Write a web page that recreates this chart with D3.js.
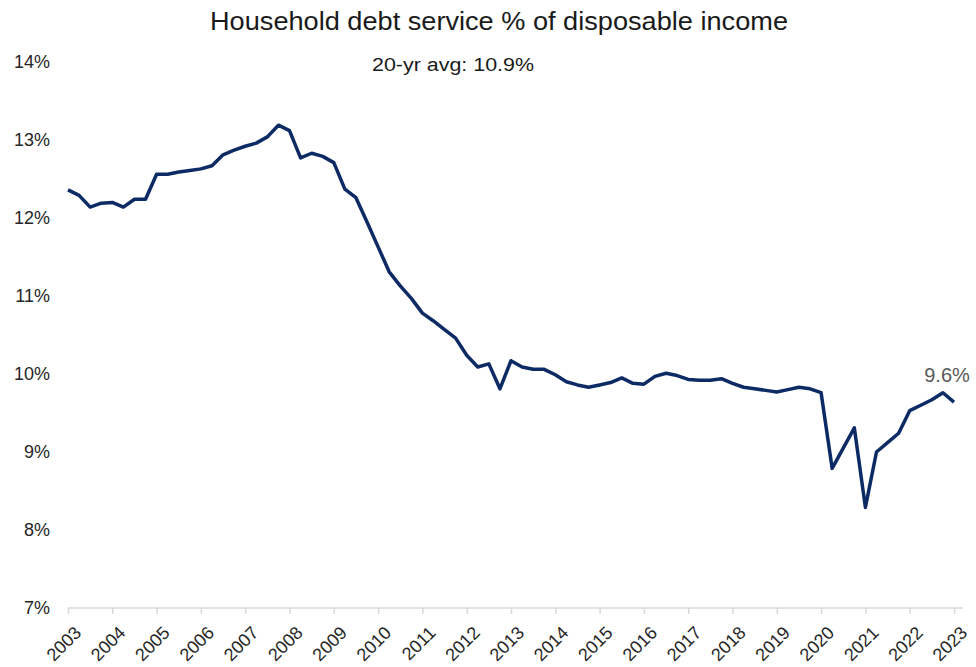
<!DOCTYPE html>
<html>
<head>
<meta charset="utf-8">
<script src="https://cdn.jsdelivr.net/npm/d3@7"></script>
<style>
  body { margin: 0; background: #fff; }
  svg { font-family: "Liberation Sans", Arial, sans-serif; }
</style>
</head>
<body>
<svg id="drawing_region"></svg>
<script>
// quarterly debt service ratio, 2003Q1 .. 2023Q1
const start_year = 2003;
const dsr = [
    12.36, 12.29, 12.14, 12.19,
    12.20, 12.14, 12.24, 12.24,
    12.56, 12.56, 12.59, 12.61,
    12.63, 12.67, 12.81, 12.87,
    12.92, 12.96, 13.04, 13.19,
    13.12, 12.77, 12.83, 12.79,
    12.71, 12.37, 12.26, 11.95,
    11.63, 11.31, 11.13, 10.97,
    10.78, 10.68, 10.57, 10.46,
    10.24, 10.09, 10.13, 9.81,
    10.17, 10.09, 10.06, 10.06,
    9.99, 9.90, 9.86, 9.83,
    9.86, 9.89, 9.95, 9.88,
    9.87, 9.97, 10.01, 9.98,
    9.93, 9.92, 9.92, 9.94,
    9.88, 9.83, 9.81, 9.79,
    9.77, 9.80, 9.83, 9.81,
    9.76, 8.79, 9.05, 9.31,
    8.29, 9.00, 9.12, 9.24,
    9.53, 9.60, 9.67, 9.76,
    9.64
];
const year_ticks = d3.range(2003, 2024);
const pct_ticks = [7, 8, 9, 10, 11, 12, 13, 14];
const title = "Household debt service % of disposable income";
const subtitle = "20-yr avg: 10.9%";
const end_label = "9.6%";

const data = dsr.map((v, i) => ({ t: start_year + i / 4, v: v }));

const config = {
    width: 976,
    height: 667,
    margin: {top: 62, right: 22, bottom: 59, left: 68}
};

const svg = d3.select('#drawing_region')
    .attr('width', config.width)
    .attr('height', config.height);

const chart = svg.append('g')
    .attr('transform', `translate(${config.margin.left}, ${config.margin.top})`);

const inner_width = config.width - config.margin.left - config.margin.right;
const inner_height = config.height - config.margin.top - config.margin.bottom;

const xscale = d3.scaleLinear()
    .domain([2003, 2023])
    .range([0, inner_width]);

const yscale = d3.scaleLinear()
    .domain([7, 14])
    .range([inner_height, 0]);

// y axis: labels only
const yaxis = d3.axisLeft(yscale)
    .tickValues(pct_ticks)
    .tickSize(0)
    .tickPadding(18)
    .tickFormat(d => d + '%');

const yaxis_group = chart.append('g').call(yaxis);
yaxis_group.select('.domain').remove();
yaxis_group.selectAll('text')
    .attr('font-size', 18)
    .attr('fill', '#262626')
    .attr('font-family', '"Liberation Sans", Arial, sans-serif');

// x axis
const xaxis = d3.axisBottom(xscale)
    .tickValues(year_ticks)
    .tickSize(6)
    .tickFormat(d3.format('d'));

const xaxis_group = chart.append('g')
    .attr('transform', `translate(0, ${inner_height})`)
    .call(xaxis);

xaxis_group.select('.domain').remove();
xaxis_group.append('line')
    .attr('x1', 0)
    .attr('x2', inner_width + 9)
    .attr('stroke', '#d9d9d9')
    .attr('stroke-width', 1.5);
xaxis_group.selectAll('.tick line')
    .attr('stroke', '#d9d9d9')
    .attr('stroke-width', 1.5);
xaxis_group.selectAll('.tick text')
    .attr('font-size', 18)
    .attr('fill', '#262626')
    .attr('font-family', '"Liberation Sans", Arial, sans-serif')
    .attr('text-anchor', 'end')
    .attr('dy', '0.35em')
    .attr('transform', 'translate(3, 15) rotate(-45)');

// line
const line = d3.line()
    .x(d => xscale(d.t))
    .y(d => yscale(d.v));

chart.append('path')
    .datum(data)
    .attr('d', line)
    .attr('fill', 'none')
    .attr('stroke', '#0c2a64')
    .attr('stroke-width', 3.5)
    .attr('stroke-linejoin', 'round');

// end label
const last = data[data.length - 1];
chart.append('text')
    .attr('x', xscale(last.t) - 7)
    .attr('y', yscale(last.v) - 20)
    .attr('text-anchor', 'middle')
    .attr('font-size', 20)
    .attr('fill', '#595959')
    .text(end_label);

// titles
svg.append('text')
    .attr('x', 499)
    .attr('y', 30)
    .attr('text-anchor', 'middle')
    .attr('font-size', 25)
    .attr('textLength', 578)
    .attr('lengthAdjust', 'spacingAndGlyphs')
    .attr('fill', '#1a1a1a')
    .text(title);

svg.append('text')
    .attr('x', 453)
    .attr('y', 71)
    .attr('text-anchor', 'middle')
    .attr('font-size', 18)
    .attr('textLength', 162)
    .attr('lengthAdjust', 'spacingAndGlyphs')
    .attr('fill', '#1a1a1a')
    .text(subtitle);
</script>
</body>
</html>
